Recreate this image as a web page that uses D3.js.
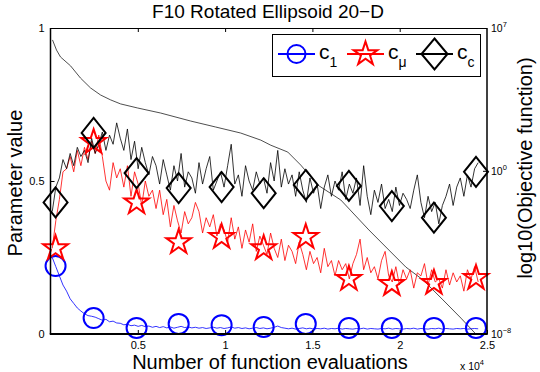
<!DOCTYPE html>
<html>
<head>
<meta charset="utf-8">
<script src="https://cdn.jsdelivr.net/npm/d3@7"></script>
<style>
  body { margin: 0; background: #fff; }
  svg { display: block; font-family: "Liberation Sans", Arial, sans-serif; }
</style>
</head>
<body>
<div id="chart"></div>
<script>
// sample grid of the noisy parameter traces (function evaluations)
const sampleStart = 100,
    sampleStep = 205;

// c_1 trace
const c1Line = [
  0.25, 0.22, 0.19, 0.16, 0.14, 0.115, 0.10, 0.085, 0.075, 0.066,
  0.06, 0.058, 0.055, 0.05, 0.045, 0.048, 0.04, 0.042, 0.036, 0.035,
  0.03, 0.032, 0.027, 0.029, 0.025, 0.028, 0.024, 0.026, 0.022, 0.025,
  0.021, 0.024, 0.02, 0.023, 0.019, 0.022, 0.025, 0.021, 0.023, 0.02,
  0.022, 0.019, 0.021, 0.018, 0.02, 0.022, 0.019, 0.021, 0.018, 0.02,
  0.023, 0.019, 0.021, 0.018, 0.02, 0.017, 0.019, 0.021, 0.018, 0.02,
  0.017, 0.019, 0.022, 0.026, 0.021, 0.019, 0.017, 0.019, 0.016, 0.018,
  0.02, 0.017, 0.019, 0.016, 0.018, 0.017, 0.019, 0.016, 0.018, 0.017,
  0.019, 0.016, 0.018, 0.017, 0.016, 0.018, 0.017, 0.019, 0.016, 0.018,
  0.017, 0.016, 0.018, 0.017, 0.019, 0.016, 0.018, 0.017, 0.016, 0.018,
  0.017, 0.019, 0.016, 0.018, 0.017, 0.016, 0.018, 0.017, 0.019, 0.016,
  0.018, 0.017, 0.016, 0.018, 0.017, 0.018, 0.016, 0.017, 0.018, 0.017
];

// c_mu trace
const cmuLine = [
  0.28, 0.37, 0.44, 0.53, 0.54, 0.58, 0.53, 0.60, 0.55, 0.61,
  0.57, 0.63, 0.59, 0.65, 0.58, 0.50, 0.47, 0.56, 0.51, 0.54,
  0.48, 0.55, 0.45, 0.53, 0.49, 0.42, 0.50, 0.45, 0.47, 0.41,
  0.47, 0.39, 0.44, 0.35, 0.42, 0.37, 0.33, 0.40, 0.36, 0.38,
  0.43, 0.40, 0.33, 0.38, 0.35, 0.39, 0.32, 0.36, 0.34, 0.30,
  0.38, 0.31, 0.35, 0.28, 0.34, 0.30, 0.36, 0.27, 0.32, 0.29,
  0.26, 0.33, 0.28, 0.25, 0.31, 0.24, 0.29, 0.27, 0.23, 0.30,
  0.26, 0.21, 0.27, 0.23, 0.25, 0.20, 0.28, 0.22, 0.24, 0.19,
  0.24, 0.21, 0.23, 0.18, 0.23, 0.26, 0.31, 0.21, 0.25, 0.20,
  0.22, 0.18, 0.24, 0.27, 0.19, 0.17, 0.22, 0.16, 0.21, 0.18,
  0.21, 0.15, 0.20, 0.19, 0.23, 0.16, 0.21, 0.17, 0.18, 0.15,
  0.21, 0.16, 0.20, 0.17, 0.19, 0.14, 0.21, 0.18, 0.22, 0.17
];

// c_c trace
const ccLine = [
  0.40, 0.48, 0.51, 0.57, 0.54, 0.59, 0.55, 0.61, 0.58, 0.60,
  0.56, 0.64, 0.59, 0.62, 0.66, 0.60, 0.65, 0.62, 0.69, 0.64,
  0.60, 0.67, 0.57, 0.63, 0.54, 0.61, 0.56, 0.52, 0.58, 0.55,
  0.49, 0.57, 0.52, 0.47, 0.55, 0.50, 0.59, 0.48, 0.53, 0.51,
  0.46, 0.56, 0.49, 0.54, 0.58, 0.47, 0.50, 0.53, 0.48, 0.55,
  0.62, 0.49, 0.52, 0.45, 0.55, 0.50, 0.47, 0.53, 0.49, 0.51,
  0.46, 0.56, 0.50, 0.60, 0.48, 0.54, 0.49, 0.52, 0.45, 0.53,
  0.47, 0.43, 0.51, 0.46, 0.49, 0.41, 0.48, 0.52, 0.45, 0.50,
  0.47, 0.53, 0.44, 0.49, 0.46, 0.51, 0.42, 0.55, 0.45, 0.39,
  0.47, 0.43, 0.49, 0.41, 0.44, 0.40, 0.48, 0.42, 0.46, 0.44,
  0.41, 0.47, 0.52, 0.43, 0.38, 0.45, 0.40, 0.43, 0.36, 0.42,
  0.45, 0.49, 0.42, 0.48, 0.51, 0.45, 0.52, 0.48, 0.54, 0.56
];

// markers
const markerEvals = [290, 2470, 4930, 7340, 9800, 12210, 14620, 17090, 19550, 21960, 24370];
const c1Marks = [0.222, 0.052, 0.02, 0.033, 0.029, 0.023, 0.033, 0.02, 0.02, 0.02, 0.02];
const cmuMarks = [0.28, 0.627, 0.43, 0.30, 0.317, 0.28, 0.317, 0.18, 0.163, 0.167, 0.183];
const ccMarks = [0.43, 0.657, 0.526, 0.477, 0.48, 0.46, 0.487, 0.484, 0.418, 0.38, 0.53];

// objective function (right axis, log scale)
const objEvals = [115, 344, 573, 1147, 1720, 2294, 2867, 3440, 4014, 4989, 6307, 8028, 9461,
  10894, 12041, 12615, 13590, 14335, 15310, 16628, 18234, 19381, 20356, 21330, 22477, 23509, 24312];
const objValues = [2.6e6, 8.3e5, 3.8e5, 1.4e5, 3.5e4, 1.15e4, 5.2e3, 3.0e3, 1.9e3, 1.2e3, 680, 275, 140,
  71, 32, 18, 8.3, 1.9, 0.2, 0.037, 1.26e-3, 1.3e-4, 1.9e-5, 4.5e-6, 4.7e-7, 6e-8, 1.1e-8];

const xTicks = [5000, 10000, 15000, 20000, 25000];
const yTicks = [0, 0.5, 1];
const objTicks = [1e7, 1, 1e-8];

var width = 540,
    height = 372,
    plotLeft = 50.5,
    plotRight = 487,
    plotTop = 28,
    plotBottom = 334;

var x = d3.scaleLinear().domain([0, 25000]).range([plotLeft, plotRight]);
var y = d3.scaleLinear().domain([0, 1]).range([plotBottom, plotTop]);
var yObj = d3.scaleLog().domain([1e-8, 1e7]).range([plotBottom, plotTop]);

var svg = d3.select("#chart").append("svg")
    .attr("width", width)
    .attr("height", height);

svg.append("rect").attr("width", width).attr("height", height).attr("fill", "#fff");

svg.append("clipPath").attr("id", "plot")
  .append("rect")
    .attr("x", plotLeft).attr("y", plotTop)
    .attr("width", plotRight - plotLeft).attr("height", plotBottom - plotTop);

var sampleX = function(d, i) { return x(sampleStart + sampleStep * i); };

var plot = svg.append("g").attr("clip-path", "url(#plot)");

plot.append("path")
    .datum(objValues)
    .attr("fill", "none")
    .attr("stroke", "#222")
    .attr("stroke-width", 0.8)
    .attr("d", d3.line().x(function(d, i) { return x(objEvals[i]); }).y(function(d) { return yObj(d); }));

[[c1Line, "#0000ff"], [cmuLine, "#ff0000"], [ccLine, "#000"]].forEach(function(s) {
  plot.append("path")
      .datum(s[0])
      .attr("fill", "none")
      .attr("stroke", s[1])
      .attr("stroke-width", 0.8)
      .attr("d", d3.line().x(sampleX).y(function(d) { return y(d); }));
});

// marker shapes
function starPath(R) {
  var pts = [];
  for (var k = 0; k < 10; k++) {
    var a = -Math.PI / 2 + k * Math.PI / 5,
        r = k % 2 ? R * 0.382 : R;
    pts.push([r * Math.cos(a), r * Math.sin(a)]);
  }
  return "M" + pts.join("L") + "Z";
}
function diamondPath(w, h) {
  return "M0," + (-h) + "L" + w + ",0L0," + h + "L" + (-w) + ",0Z";
}
var circlePath = function(r) { return d3.arc()({innerRadius: 0, outerRadius: r, startAngle: 0, endAngle: 2 * Math.PI}); };

var markerSets = [
  [c1Marks, "#0000ff", circlePath(10)],
  [cmuMarks, "#ff0000", starPath(13)],
  [ccMarks, "#000", diamondPath(12, 15)]
];

markerSets.forEach(function(m) {
  svg.append("g").selectAll("path")
    .data(m[0])
    .enter().append("path")
      .attr("d", m[2])
      .attr("transform", function(d, i) { return "translate(" + x(markerEvals[i]) + "," + y(d) + ")"; })
      .attr("fill", "none")
      .attr("stroke", m[1])
      .attr("stroke-width", 2);
});

// box
svg.append("line").attr("x1", plotLeft).attr("x2", plotRight).attr("y1", plotTop + 0.5).attr("y2", plotTop + 0.5)
    .attr("stroke", "#000").attr("stroke-width", 1);
svg.append("line").attr("x1", plotRight).attr("x2", plotRight).attr("y1", plotTop).attr("y2", plotBottom)
    .attr("stroke", "#000").attr("stroke-width", 1.5);
svg.append("line").attr("x1", plotLeft).attr("x2", plotLeft).attr("y1", plotTop).attr("y2", plotBottom)
    .attr("stroke", "#000").attr("stroke-width", 1.5);
svg.append("line").attr("x1", plotLeft - 0.75).attr("x2", plotRight + 0.75).attr("y1", plotBottom).attr("y2", plotBottom)
    .attr("stroke", "#000").attr("stroke-width", 2);

// axes
svg.append("g")
    .attr("transform", "translate(0," + plotBottom + ")")
    .call(d3.axisBottom(x).tickValues(xTicks).tickFormat(function(d) { return d / 1e4; })
      .tickSizeInner(-4).tickSizeOuter(0).tickPadding(7));
svg.append("g")
    .attr("transform", "translate(0," + plotTop + ")")
    .call(d3.axisTop(x).tickValues(xTicks.slice(0, 4)).tickFormat("")
      .tickSizeInner(-4).tickSizeOuter(0));
svg.append("g")
    .attr("transform", "translate(" + plotLeft + ",0)")
    .call(d3.axisLeft(y).tickValues(yTicks).tickFormat(d3.format("~g"))
      .tickSizeInner(-4).tickSizeOuter(0).tickPadding(6));
svg.append("g")
    .attr("transform", "translate(" + plotRight + ",0)")
    .call(d3.axisRight(yObj).tickValues(objTicks).tickFormat("")
      .tickSizeInner(-4).tickSizeOuter(0));

svg.selectAll(".domain").remove();
svg.selectAll(".tick text").attr("font-size", 11).attr("font-family", "Liberation Sans, Arial, sans-serif").attr("fill", "#000");
svg.selectAll(".tick line").attr("stroke", "#000");

// right tick labels as powers of ten
objTicks.forEach(function(v) {
  var t = svg.append("text")
      .attr("x", plotRight + 4)
      .attr("y", yObj(v) + 4)
      .attr("font-size", 10.5);
  t.append("tspan").text("10");
  t.append("tspan").attr("font-size", 7.5).attr("dy", -5).text(String(Math.round(Math.log10(v))).replace("-", "\u2212"));
});

// x 10^4 multiplier
var mult = svg.append("text").attr("x", 460).attr("y", 370).attr("font-size", 10.5);
mult.append("tspan").text("x 10");
mult.append("tspan").attr("font-size", 7.5).attr("dy", -5).text("4");

// titles
svg.append("text")
    .attr("x", 268).attr("y", 17.5)
    .attr("text-anchor", "middle")
    .attr("font-size", 19)
    .text("F10 Rotated Ellipsoid 20\u2212D");

svg.append("text")
    .attr("x", 270).attr("y", 369)
    .attr("text-anchor", "middle")
    .attr("font-size", 20)
    .text("Number of function evaluations");

svg.append("text")
    .attr("transform", "translate(22,183)rotate(-90)")
    .attr("text-anchor", "middle")
    .attr("font-size", 20)
    .text("Parameter value");

svg.append("text")
    .attr("transform", "translate(532,168)rotate(-90)")
    .attr("text-anchor", "middle")
    .attr("font-size", 20)
    .text("log10(Objective function)");

// legend
var legendItems = [
  {label: "1", color: "#0000ff", path: circlePath(9), x0: 278},
  {label: "\u03bc", color: "#ff0000", path: starPath(12.5), x0: 347},
  {label: "c", color: "#000", path: diamondPath(13, 15.5), x0: 416}
];

var legend = svg.append("g");
legend.append("rect")
    .attr("x", 272.5).attr("y", 34.5)
    .attr("width", 208).attr("height", 42)
    .attr("fill", "#fff")
    .attr("stroke", "#000");

legendItems.forEach(function(d) {
  var g = legend.append("g");
  g.append("line")
      .attr("x1", d.x0).attr("x2", d.x0 + 37)
      .attr("y1", 54).attr("y2", 54)
      .attr("stroke", d.color).attr("stroke-width", 2);
  g.append("path")
      .attr("d", d.path)
      .attr("transform", "translate(" + (d.x0 + 18.5) + ",54)")
      .attr("fill", "none")
      .attr("stroke", d.color)
      .attr("stroke-width", 2);
  var t = g.append("text")
      .attr("x", d.x0 + 41).attr("y", 59)
      .attr("font-size", 21);
  t.append("tspan").text("c");
  t.append("tspan").attr("font-size", 14).attr("dy", 8).text(d.label);
});
</script>
</body>
</html>
